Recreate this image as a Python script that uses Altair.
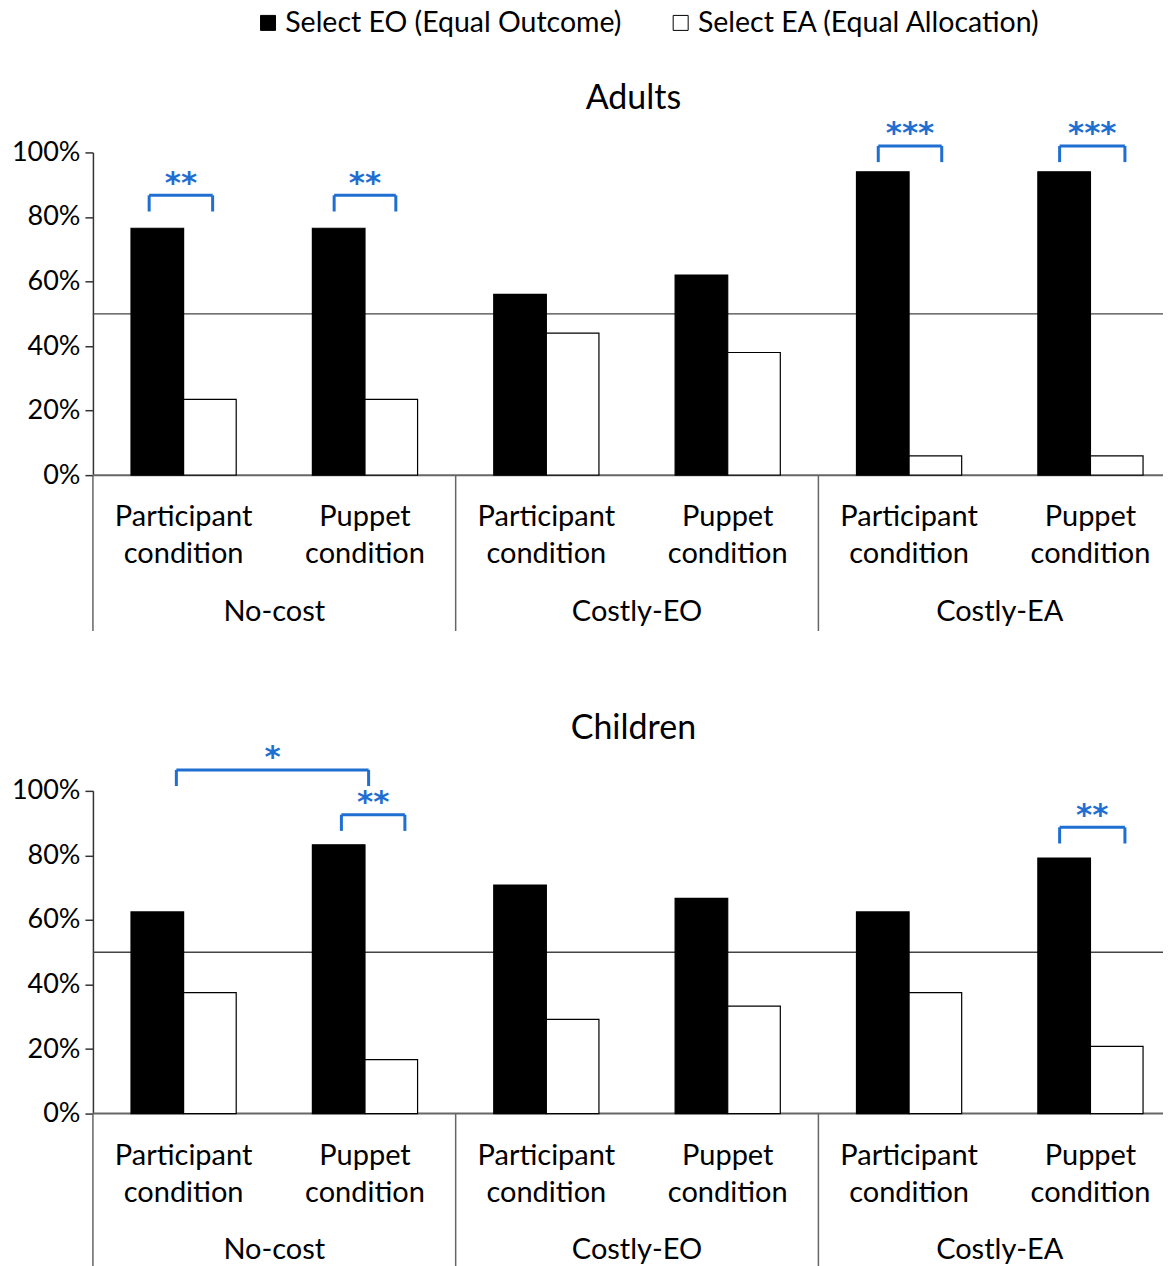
import altair as alt
import pandas as pd

series = ["Select EO (Equal Outcome)", "Select EA (Equal Allocation)"]
groups = ["No-cost", "Costly-EO", "Costly-EA"]
cond_line1 = ["Participant", "Puppet"]
cond_line2 = ["condition", "condition"]

# slot order: No-cost Participant, No-cost Puppet, Costly-EO Participant,
# Costly-EO Puppet, Costly-EA Participant, Costly-EA Puppet  (percent)
adults_eo = [76.5, 76.5, 56.0, 62.0, 94.0, 94.0]
adults_ea = [23.5, 23.5, 44.0, 38.0, 6.0, 6.0]
children_eo = [62.5, 83.3, 70.8, 66.7, 62.5, 79.2]
children_ea = [37.5, 16.7, 29.2, 33.3, 37.5, 20.8]

# significance brackets (positions in slot units, heights in percent)
adult_sig_x1 = [0.31, 1.33, 4.33, 5.33]
adult_sig_x2 = [0.66, 1.67, 4.68, 5.69]
adult_sig_top = [86.7, 86.7, 102.0, 102.0]
adult_sig_label = ["**", "**", "***", "***"]
child_sig_x1 = [0.46, 1.37, 5.33]
child_sig_x2 = [1.52, 1.72, 5.69]
child_sig_top = [106.5, 92.6, 88.7]
child_sig_label = ["*", "**", "**"]

BLUE = "#1f6fd2"
FONT = "Lato"
XMAX = 5.9
W = 1071
H = 323
xs = alt.Scale(domain=[0, XMAX], nice=False, zero=False)
ys = alt.Scale(domain=[0, 100], nice=False)


def panel(title, title_y, eo, ea, sx1, sx2, stop, slab, show_legend):
    rows = []
    for i in range(6):
        rows.append(dict(series=series[0], x1=i + 0.21, x2=i + 0.5, v=eo[i]))
        rows.append(dict(series=series[1], x1=i + 0.5, x2=i + 0.79, v=ea[i]))
    bars_df = pd.DataFrame(rows)

    if show_legend:
        leg = alt.Legend(orient="none", legendX=161, legendY=-144, direction="horizontal",
                         title=None, symbolType="square", symbolSize=225,
                         symbolStrokeColor="black", symbolStrokeWidth=1,
                         labelFontSize=28.5, labelFont=FONT, labelColor="black",
                         labelOffset=3, columnPadding=44, labelLimit=0)
    else:
        leg = None

    yaxis = alt.Axis(values=[0, 20, 40, 60, 80, 100], labelExpr="datum.value + '%'",
                     labelFontSize=27, labelFont=FONT, labelColor="black",
                     tickSize=8, tickColor="#333", tickWidth=1.5,
                     domainColor="#333", domainWidth=1.5, grid=False, title=None,
                     labelPadding=5)

    ref_df = pd.DataFrame({"x": [0, 0], "x2": [XMAX, XMAX], "y": [50, 0],
                           "kind": ["ref", "base"]})
    ref = alt.Chart(ref_df[ref_df.kind == "ref"]).mark_rule(color="#444", strokeWidth=1.3).encode(
        x=alt.X("x:Q", scale=xs, axis=None), x2="x2:Q",
        y=alt.Y("y:Q", scale=ys, axis=yaxis))
    base = alt.Chart(ref_df[ref_df.kind == "base"]).mark_rule(color="#666", strokeWidth=2).encode(
        x=alt.X("x:Q", scale=xs, axis=None), x2="x2:Q", y=alt.Y("y:Q", scale=ys))

    bars = alt.Chart(bars_df).mark_bar(stroke="black", strokeWidth=1.2).encode(
        x=alt.X("x1:Q", scale=xs, axis=None), x2="x2:Q",
        y=alt.Y("v:Q", scale=ys), y2=alt.datum(0),
        fill=alt.Fill("series:N", scale=alt.Scale(domain=series, range=["black", "white"]),
                      legend=leg))

    sep_df = pd.DataFrame({"x": [0, 2, 4], "y": [0, 0, 0], "y2": [-48.3] * 3})
    seps = alt.Chart(sep_df).mark_rule(color="#666", strokeWidth=1.5).encode(
        x=alt.X("x:Q", scale=xs), y=alt.Y("y:Q", scale=ys), y2="y2:Q")

    lab_rows = []
    for i in range(6):
        lab_rows.append(dict(x=i + 0.5, y=-13.0, t=cond_line1[i % 2]))
        lab_rows.append(dict(x=i + 0.5, y=-24.5, t=cond_line2[i % 2]))
    for g in range(3):
        lab_rows.append(dict(x=2 * g + 1.0, y=-42.4, t=groups[g]))
    labels = alt.Chart(pd.DataFrame(lab_rows)).mark_text(
        fontSize=29, font=FONT, color="black", baseline="middle").encode(
        x=alt.X("x:Q", scale=xs), y=alt.Y("y:Q", scale=ys), text="t:N")

    seg_rows = []
    star_rows = []
    for a, b, t, s in zip(sx1, sx2, stop, slab):
        seg_rows.append(dict(x=a, x2=b, y=t, y2=t))
        seg_rows.append(dict(x=a, x2=a, y=t, y2=t - 5))
        seg_rows.append(dict(x=b, x2=b, y=t, y2=t - 5))
        star_rows.append(dict(x=(a + b) / 2, y=t - 1.4, t=s))
    brackets = alt.Chart(pd.DataFrame(seg_rows)).mark_rule(color=BLUE, strokeWidth=3).encode(
        x=alt.X("x:Q", scale=xs), x2="x2:Q", y=alt.Y("y:Q", scale=ys), y2="y2:Q")
    stars = alt.Chart(pd.DataFrame(star_rows)).mark_text(
        color=BLUE, fontSize=31, font="DejaVu Sans", baseline="bottom", fontWeight="bold").encode(
        x=alt.X("x:Q", scale=xs), y=alt.Y("y:Q", scale=ys), text="t:N")

    ttl = alt.Chart(pd.DataFrame({"x": [2.98], "y": [title_y], "t": [title]})).mark_text(
        fontSize=34, font=FONT, color="black", baseline="middle").encode(
        x=alt.X("x:Q", scale=xs), y=alt.Y("y:Q", scale=ys), text="t:N")

    return alt.layer(ref, base, bars, seps, labels, brackets, stars, ttl).properties(
        width=W, height=H)


top = panel("Adults", 116.7, adults_eo, adults_ea, adult_sig_x1, adult_sig_x2,
            adult_sig_top, adult_sig_label, True)
bottom = panel("Children", 119.2, children_eo, children_ea, child_sig_x1, child_sig_x2,
               child_sig_top, child_sig_label, False)

chart = alt.vconcat(top, bottom, spacing=79).resolve_legend(fill="independent").properties(
    padding={"left": 3, "top": 0, "right": 0, "bottom": 0}
).configure_view(stroke=None)

chart.save("out.html", embed_options={"renderer": "svg", "actions": False})
